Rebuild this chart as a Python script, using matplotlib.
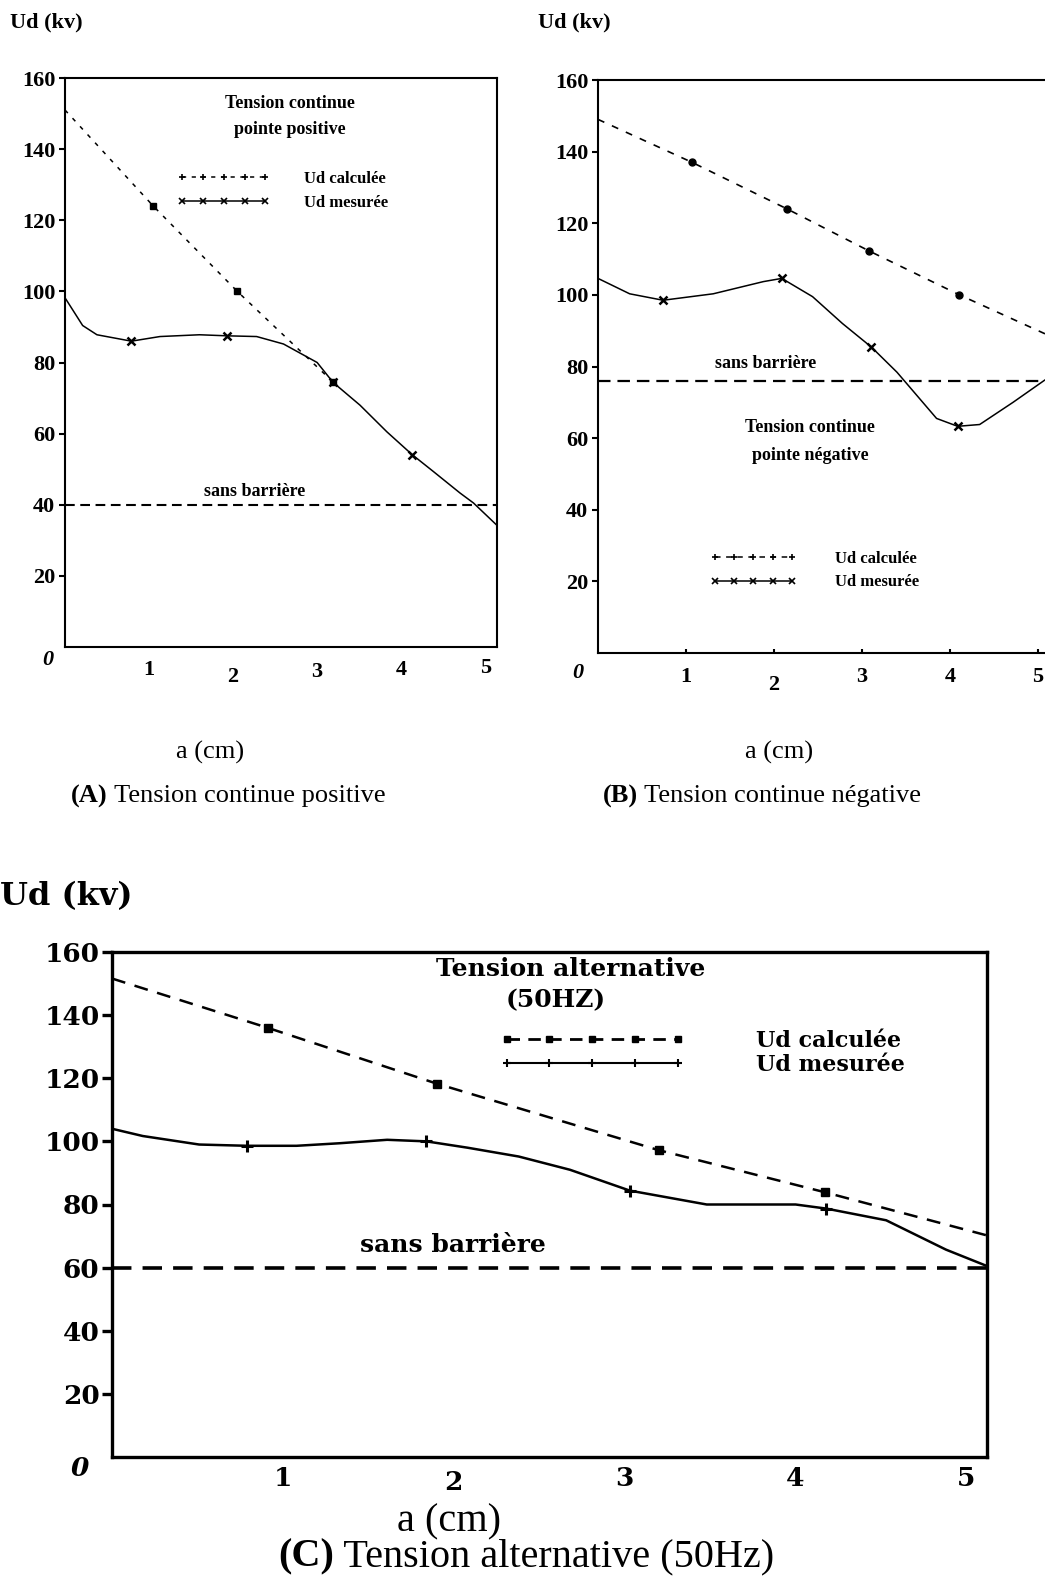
import matplotlib
matplotlib.use('Agg')
import matplotlib.pyplot as plt
from matplotlib.lines import Line2D

plt.rcParams['lines.scale_dashes'] = False

# ---------------- data ----------------
ticks_y = [20, 40, 60, 80, 100, 120, 140, 160]
ticks_x = [1, 2, 3, 4, 5]

# (A) Tension continue positive
calc_A_x = [0, 1.05, 2.05, 3.19]
calc_A_y = [151, 124, 100, 74.5]
meas_A_x = [0, 0.21, 0.38, 0.79, 1.13, 1.6, 1.93, 2.28, 2.6, 2.8, 3.0, 3.19,
            3.51, 3.83, 4.13, 4.38, 4.7, 4.86, 5.14]
meas_A_y = [98.2, 90.4, 87.8, 86, 87.3, 87.8, 87.5, 87.3, 85.2, 82.6, 80, 74.4,
            68, 60.5, 54.1, 49.4, 43.3, 40.5, 34.2]
meas_A_mark = [3, 6, 11, 14]
barrier_A = 40

# (B) Tension continue negative
calc_B_x = [0, 1.07, 2.15, 3.08, 4.11, 5.14]
calc_B_y = [149, 137, 124, 112.3, 100, 88.5]
meas_B_x = [0, 0.36, 0.74, 1.31, 1.88, 2.09, 2.44, 2.78, 3.11, 3.4, 3.85, 4.09,
            4.34, 4.72, 5.08, 5.14]
meas_B_y = [104.6, 100.3, 98.5, 100.3, 103.7, 104.6, 99.5, 92, 85.4, 78.4, 65.5,
            63.3, 63.8, 70, 76.2, 77]
meas_B_mark = [2, 5, 8, 11]
barrier_B = 76

# (C) Tension alternative 50 Hz
calc_C_x = [0, 0.91, 1.9, 3.2, 4.17, 5.12]
calc_C_y = [151.6, 136, 118.3, 97.2, 83.9, 70.2]
meas_C_x = [0, 0.18, 0.51, 0.79, 1.08, 1.33, 1.61, 1.84, 2.08, 2.38, 2.68, 3.03,
            3.48, 4.0, 4.18, 4.53, 4.88, 5.12]
meas_C_y = [104, 101.7, 99, 98.6, 98.6, 99.4, 100.5, 100, 98, 95.2, 91, 84.4,
            80, 80, 78.7, 75, 65.7, 60.5]
meas_C_mark = [3, 7, 11, 14]
barrier_C = 60

# ---------------- layout helpers ----------------
W, H = 1045, 1576
fig = plt.figure(figsize=(W / 100, H / 100), dpi=100)
fig.patch.set_facecolor('white')


def rect(l, t, r, b):
    return [l / W, 1 - b / H, (r - l) / W, (b - t) / H]


def P(x, y):
    return (x / W, 1 - y / H)


SERIF = 'Liberation Serif'
BLOCK = 'DejaVu Serif'


def setup(ax, xmax, lw, tfont, tsize, tlen, tpad, xlab_off, zero_xy, xtick_in):
    ax.set_xlim(0, xmax)
    ax.set_ylim(0, 160)
    for s in ax.spines.values():
        s.set_linewidth(lw)
    ax.set_yticks(ticks_y)
    ax.set_yticklabels([str(v) for v in ticks_y], fontfamily=tfont,
                       fontweight='bold', fontsize=tsize)
    ax.tick_params(axis='y', direction='out', length=tlen, width=lw, pad=tpad)
    ax.set_xticks(ticks_x)
    ax.set_xticklabels([])
    if xtick_in:
        ax.tick_params(axis='x', direction='in', length=3, width=lw)
    else:
        ax.tick_params(axis='x', length=0)
    for v, off in zip(ticks_x, xlab_off):
        ax.annotate(str(v), xy=(v, 0), xycoords='data',
                    xytext=(0, -off * 0.72), textcoords='offset points',
                    ha='center', va='center', fontfamily=tfont,
                    fontweight='bold', fontsize=tsize, annotation_clip=False)
    fig.text(*P(*zero_xy), '0', ha='center', va='center', fontfamily=tfont,
             fontweight='bold', fontstyle='italic', fontsize=tsize)


def caption(letter, rest, cx, cy, size):
    r = fig.canvas.get_renderer()
    t1 = fig.text(0, 0, letter, fontfamily=SERIF, fontweight='bold', fontsize=size,
                  va='center', ha='left')
    t2 = fig.text(0, 0, rest, fontfamily=SERIF, fontsize=size, va='center', ha='left')
    w1 = t1.get_window_extent(r).width
    w2 = t2.get_window_extent(r).width
    x0 = cx - (w1 + w2) / 2
    t1.set_position(P(x0, cy))
    t2.set_position(P(x0 + w1, cy))


# ---------------- panel A ----------------
axA = fig.add_axes(rect(65, 78, 497, 647))
setup(axA, 5.14, 1.5, SERIF, 16, 4, 3, [23, 30, 25, 23, 21], (48, 660), False)
axA.plot(calc_A_x, calc_A_y, color='black', lw=1.1, ls=(0, (3, 5)),
         marker='s', ms=4, markevery=[1, 2, 3])
axA.plot(meas_A_x, meas_A_y, color='black', lw=1.1, marker='x', ms=6, mew=1.8,
         markevery=meas_A_mark)
axA.axhline(barrier_A, color='black', lw=1.5, ls=(0, (7, 4)))

fig.text(*P(290, 103), 'Tension continue', ha='center', va='center',
         fontfamily=SERIF, fontweight='bold', fontsize=13)
fig.text(*P(290, 129), 'pointe positive', ha='center', va='center',
         fontfamily=SERIF, fontweight='bold', fontsize=13)
fig.text(*P(255, 491), 'sans barrière', ha='center', va='center',
         fontfamily=SERIF, fontweight='bold', fontsize=13)
hA = [Line2D([], [], color='black', lw=1.1, ls=(0, (3, 4)), marker='+', ms=5, mew=1.2),
      Line2D([], [], color='black', lw=1.1, marker='x', ms=4, mew=1.2)]
axA.legend(hA, ['Ud calculée', 'Ud mesurée'], loc='upper left',
           bbox_to_anchor=P(177, 171), bbox_transform=fig.transFigure,
           frameon=False, prop={'family': SERIF, 'weight': 'bold', 'size': 12},
           handlelength=5.6, handletextpad=2.0, labelspacing=0.5, numpoints=5,
           borderpad=0, borderaxespad=0)
fig.text(*P(10, 22), 'Ud (kv)', ha='left', va='center', fontfamily=SERIF,
         fontweight='bold', fontsize=16)

# ---------------- panel B ----------------
axB = fig.add_axes(rect(598, 80, 1050, 653))
setup(axB, 5.14, 1.5, SERIF, 16, 4, 3, [24, 32, 24, 24, 24], (578, 673), True)
axB.plot(calc_B_x, calc_B_y, color='black', lw=1.2, ls=(0, (5, 6)),
         marker='o', ms=5, markevery=[1, 2, 3, 4])
axB.plot(meas_B_x, meas_B_y, color='black', lw=1.1, marker='x', ms=6, mew=1.8,
         markevery=meas_B_mark)
axB.axhline(barrier_B, color='black', lw=1.6, ls=(0, (9, 5)))

fig.text(*P(766, 364), 'sans barrière', ha='center', va='center',
         fontfamily=SERIF, fontweight='bold', fontsize=13)
fig.text(*P(810, 428), 'Tension continue', ha='center', va='center',
         fontfamily=SERIF, fontweight='bold', fontsize=13)
fig.text(*P(810, 456), 'pointe négative', ha='center', va='center',
         fontfamily=SERIF, fontweight='bold', fontsize=13)
hB = [Line2D([], [], color='black', lw=1.1, ls=(0, (4, 4)), marker='+', ms=5, mew=1.2),
      Line2D([], [], color='black', lw=1.1, marker='x', ms=4, mew=1.2)]
axB.legend(hB, ['Ud calculée', 'Ud mesurée'], loc='upper left',
           bbox_to_anchor=P(710, 551), bbox_transform=fig.transFigure,
           frameon=False, prop={'family': SERIF, 'weight': 'bold', 'size': 12},
           handlelength=5.2, handletextpad=2.3, labelspacing=0.45, numpoints=5,
           borderpad=0, borderaxespad=0)
fig.text(*P(538, 22), 'Ud (kv)', ha='left', va='center', fontfamily=SERIF,
         fontweight='bold', fontsize=16)

# ---------------- panel C ----------------
axC = fig.add_axes(rect(112, 952, 987, 1457))
setup(axC, 5.12, 2.4, BLOCK, 19, 7, 2, [21, 25, 21, 21, 21], (80, 1468), False)
axC.plot(calc_C_x, calc_C_y, color='black', lw=1.8, ls=(0, (10, 7)),
         marker='s', ms=5.5, markevery=[1, 2, 3, 4])
axC.plot(meas_C_x, meas_C_y, color='black', lw=1.8, marker='+', ms=8, mew=2.2,
         markevery=meas_C_mark)
axC.axhline(barrier_C, color='black', lw=2.6, ls=(0, (14, 8)))

fig.text(*P(571, 969), 'Tension alternative', ha='center', va='center',
         fontfamily=BLOCK, fontweight='bold', fontsize=18)
fig.text(*P(556, 1000), '(50HZ)', ha='center', va='center',
         fontfamily=BLOCK, fontweight='bold', fontsize=18)
fig.text(*P(453, 1245), 'sans barrière', ha='center', va='center',
         fontfamily=BLOCK, fontweight='bold', fontsize=18)
hC = [Line2D([], [], color='black', lw=2.0, ls=(0, (9, 6)), marker='s', ms=4),
      Line2D([], [], color='black', lw=1.5, marker='+', ms=6, mew=1.5)]
axC.legend(hC, ['Ud calculée', 'Ud mesurée'], loc='upper left',
           bbox_to_anchor=P(500, 1030), bbox_transform=fig.transFigure,
           frameon=False, prop={'family': BLOCK, 'weight': 'bold', 'size': 16},
           handlelength=8.3, handletextpad=3.2, labelspacing=0.1, numpoints=5,
           borderpad=0, borderaxespad=0)
fig.text(*P(0, 897), 'Ud (kv)', ha='left', va='center', fontfamily=BLOCK,
         fontweight='bold', fontsize=23)

# ---------------- captions ----------------
fig.text(*P(210, 752), 'a (cm)', ha='center', va='center', fontfamily=SERIF, fontsize=19)
caption('(A)', ' Tension continue positive', 228, 796, 19)
fig.text(*P(779, 752), 'a (cm)', ha='center', va='center', fontfamily=SERIF, fontsize=19)
caption('(B)', ' Tension continue négative', 762, 796, 19)
fig.text(*P(449, 1522), 'a (cm)', ha='center', va='center', fontfamily=SERIF, fontsize=29)
caption('(C)', ' Tension alternative (50Hz)', 526, 1557, 29)

fig.savefig('out.png', dpi=100, facecolor='white')
